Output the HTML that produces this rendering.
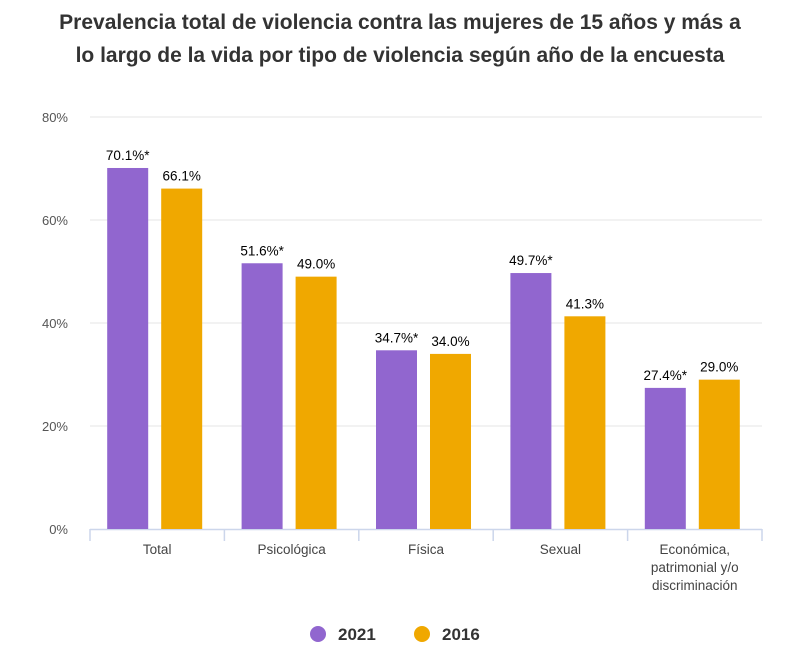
<!DOCTYPE html>
<html><head><meta charset="utf-8"><style>
body{margin:0;background:#fff;width:800px;height:672px;overflow:hidden;font-family:"Liberation Sans",sans-serif}
h1{position:absolute;top:6px;left:0;width:800px;margin:0;text-align:center;font-size:21px;line-height:33px;font-weight:bold;color:#333}
svg{position:absolute;left:0;top:0}
</style></head><body>
<h1>Prevalencia total de violencia contra las mujeres de 15 años y más a<br>lo largo de la vida por tipo de violencia según año de la encuesta</h1>
<svg id="c" width="800" height="672"></svg>
<script>
const categories=[["Total"],["Psicológica"],["Física"],["Sexual"],["Económica,","patrimonial y/o","discriminación"]];
const values2021=[70.1,51.6,34.7,49.7,27.4];
const values2016=[66.1,49.0,34.0,41.3,29.0];
const labels2021=["70.1%*","51.6%*","34.7%*","49.7%*","27.4%*"];
const labels2016=["66.1%","49.0%","34.0%","41.3%","29.0%"];
const yTicks=[0,20,40,60,80];
const svg=document.getElementById('c');
const NS='http://www.w3.org/2000/svg';
const x0=90,x1=762,y0=529,yTop=117,yMax=80;
const bw=(x1-x0)/categories.length;
const y=v=>y0-(v/yMax)*(y0-yTop);
function mk(t,a,txt){const e=document.createElementNS(NS,t);for(const k in a)e.setAttribute(k,a[k]);if(txt!=null)e.textContent=txt;svg.appendChild(e);return e;}
yTicks.forEach(t=>{
 if(t>0){const g=mk('line',{x1:x0,x2:x1,y1:y(t),y2:y(t),stroke:'#e6e6e6','stroke-width':1});
 
 }
 const l=mk('text',{x:68,y:y(t)+5,'text-anchor':'end','font-size':13,fill:'#555'},t+'%');
 
 
});
const ax=mk('line',{x1:x0,x2:x1,y1:y0+0.5,y2:y0+0.5,stroke:'#ccd6eb','stroke-width':1.5});


for(let i=0;i<=categories.length;i++){const t=mk('line',{x1:x0+i*bw,x2:x0+i*bw,y1:y0,y2:y0+12,stroke:'#ccd6eb','stroke-width':1.5});

}
categories.forEach((c,i)=>{
 const cx=x0+bw*(i+0.5);
 const b1=mk('rect',{x:cx-50,y:y(values2021[i]),width:41,height:y0-y(values2021[i]),fill:'#9166cf'});
 
 
 const b2=mk('rect',{x:cx+4,y:y(values2016[i]),width:41,height:y0-y(values2016[i]),fill:'#f0a800'});
 
 
 const l1=mk('text',{x:cx-29.5,y:y(values2021[i])-8,'text-anchor':'middle','font-size':13.5,fill:'#000'},labels2021[i]);
 
 
 const l2=mk('text',{x:cx+24.5,y:y(values2016[i])-8,'text-anchor':'middle','font-size':13.5,fill:'#000'},labels2016[i]);
 
 
 c.forEach((s,j)=>{const t=mk('text',{x:cx,y:554+j*18,'text-anchor':'middle','font-size':13.5,fill:'#444'},s);
 
 });
});
const lg=[["2021","#9166cf",318],["2016","#f0a800",422]];
lg.forEach(d=>{
 const c=mk('circle',{cx:d[2],cy:634,r:8,fill:d[1]});
 
 
 const t=mk('text',{x:d[2]+20,y:640,'font-size':17,'font-weight':'bold',fill:'#333'},d[0]);
 
 
});
</script>
</body></html>
